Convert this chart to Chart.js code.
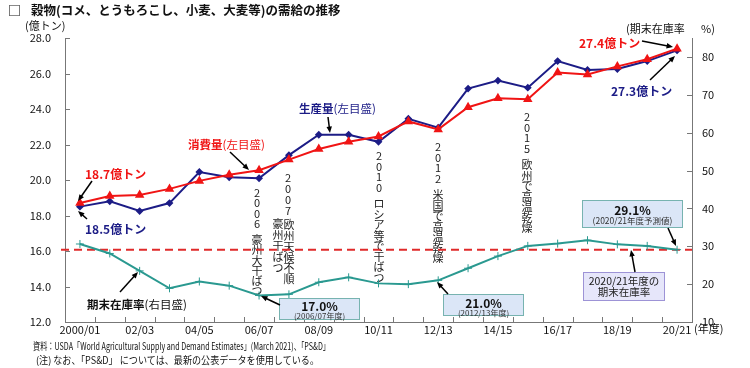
<!DOCTYPE html>
<html lang="ja">
<head>
<meta charset="utf-8">
<title>穀物の需給の推移</title>
<script src="https://cdn.jsdelivr.net/npm/chart.js@4.4.0/dist/chart.umd.min.js"></script>
<style>
  body { margin: 0; background: #fff; font-family: "Noto Sans CJK JP", sans-serif; }
  #wrap { position: relative; width: 750px; height: 368px; overflow: hidden; }
  #chart { position: absolute; left: 0; top: 0; }
  .txt { position: absolute; white-space: nowrap; color: #111; line-height: 1; }
  #title { left: 8px; top: 3px; font-size: 12.5px; font-weight: bold; }
  #title span { display: inline-block; width: 23px; font-size: 13px; }
  .note { font-size: 10px; transform-origin: 0 50%; }
</style>
</head>
<body>
<div id="wrap">
  <canvas id="chart" width="750" height="368"></canvas>
  <div id="title" class="txt"><span>□</span>穀物(コメ、とうもろこし、小麦、大麦等)の需給の推移</div>
  <div id="note1" class="txt note" style="left:33px;top:341px" data-w="297">資料：USDA「World Agricultural Supply and Demand Estimates」(March 2021)、「PS&amp;D」</div>
  <div id="note2" class="txt note" style="left:36px;top:355px" data-w="283">(注) なお、「PS&amp;D」 については、最新の公表データを使用している。</div>
</div>
<script>
// 年度
const years = ['2000/01', '01/02', '02/03', '03/04', '04/05', '05/06', '06/07', '07/08', '08/09', '09/10',
  '10/11', '11/12', '12/13', '13/14', '14/15', '15/16', '16/17', '17/18', '18/19', '19/20', '20/21'];

// 生産量・消費量（億トン）
const production = [18.5, 18.8, 18.25, 18.7, 20.45, 20.15, 20.1, 21.4, 22.55, 22.55, 22.15,
  23.45, 22.95, 25.15, 25.6, 25.2, 26.7, 26.2, 26.25, 26.7, 27.3];
const consumption = [18.7, 19.1, 19.15, 19.5, 19.95, 20.3, 20.55, 21.15, 21.75, 22.15, 22.45,
  23.3, 22.85, 24.1, 24.6, 24.55, 26.05, 25.95, 26.4, 26.8, 27.4];

// 期末在庫率（％）
const stockRatio = [30.6, 28.1, 23.5, 18.9, 20.7, 19.6, 17.0, 17.3, 20.5, 21.8, 20.2,
  20.0, 21.0, 24.2, 27.4, 30.1, 30.7, 31.6, 30.5, 30.1, 29.1];
const latestRatio = 29.1;

const leftTicks = [12, 14, 16, 18, 20, 22, 24, 26, 28];
const rightTicks = [10, 20, 30, 40, 50, 60, 70, 80];

const FONT = '"Noto Sans CJK JP", sans-serif';
const RED = '#f01414';
const NAVY = '#1c1c86';
const TEAL = '#2a9990';

// 脚注を元の幅に合わせる
document.querySelectorAll('.note').forEach(el => {
  const w = el.getBoundingClientRect().width;
  el.style.transform = 'scaleX(' + (Number(el.dataset.w) / w) + ')';
});

function text(ctx, str, x, y, opt) {
  opt = opt || {};
  ctx.font = (opt.bold ? 'bold ' : '') + (opt.size || 11) + 'px ' + FONT;
  ctx.fillStyle = opt.color || '#111';
  ctx.textAlign = opt.align || 'left';
  ctx.textBaseline = 'middle';
  ctx.fillText(str, x, y);
  return ctx.measureText(str).width;
}

// 太字部分 + 通常部分
function label2(ctx, bold, normal, x, y, color, size) {
  const w = text(ctx, bold, x, y, { bold: true, color: color, size: size });
  text(ctx, normal, x + w, y, { color: color, size: size });
}

function vtext(ctx, str, x, y0, step) {
  let y = y0;
  for (const ch of str) {
    if (ch === ' ') { y += step * 0.6; continue; }
    text(ctx, ch, x, y, { align: 'center', size: 11, color: '#222' });
    y += step;
  }
}

function arrow(ctx, x1, y1, x2, y2) {
  const a = Math.atan2(y2 - y1, x2 - x1);
  ctx.save();
  ctx.strokeStyle = '#000';
  ctx.fillStyle = '#000';
  ctx.lineWidth = 1.5;
  ctx.beginPath();
  ctx.moveTo(x1, y1);
  ctx.lineTo(x2 - 4 * Math.cos(a), y2 - 4 * Math.sin(a));
  ctx.stroke();
  ctx.beginPath();
  ctx.moveTo(x2, y2);
  ctx.lineTo(x2 - 7 * Math.cos(a - 0.4), y2 - 7 * Math.sin(a - 0.4));
  ctx.lineTo(x2 - 7 * Math.cos(a + 0.4), y2 - 7 * Math.sin(a + 0.4));
  ctx.closePath();
  ctx.fill();
  ctx.restore();
}

function box(ctx, x, y, w, h, fill, stroke) {
  ctx.save();
  ctx.fillStyle = fill;
  ctx.strokeStyle = stroke;
  ctx.lineWidth = 1;
  ctx.fillRect(x, y, w, h);
  ctx.strokeRect(x + 0.5, y + 0.5, w - 1, h - 1);
  ctx.restore();
}

// 出来事の縦書きと在庫率の基準線（系列の下に描く）
const background = {
  id: 'background',
  beforeDatasetsDraw(chart) {
    const ctx = chart.ctx;
    const area = chart.chartArea;

    vtext(ctx, '2006 豪州大干ばつ', 257, 193, 10.2);
    vtext(ctx, '2007', 288, 178, 10.8);
    vtext(ctx, '豪州干ばつ', 278, 224, 11);
    vtext(ctx, '欧州天候不順', 289, 225, 10.8);
    vtext(ctx, '2010 ロシア等で干ばつ', 379, 156, 10.5);
    vtext(ctx, '2012 米国で高温乾燥', 438, 147, 10.5);
    vtext(ctx, '2015 欧州で高温乾燥', 527, 117, 10.5);

    const y = chart.scales.y1.getPixelForValue(latestRatio);
    ctx.save();
    ctx.strokeStyle = '#e02a2a';
    ctx.lineWidth = 2;
    ctx.setLineDash([8, 5]);
    ctx.beginPath();
    ctx.moveTo(area.left - 4, y);
    ctx.lineTo(area.right, y);
    ctx.stroke();
    ctx.restore();
  }
};

const annotations = {
  id: 'annotations',
  afterDraw(chart) {
    const ctx = chart.ctx;
    const area = chart.chartArea;
    const xs = chart.scales.x;
    const ys = chart.scales.y;
    const ys1 = chart.scales.y1;

    // 内向きの目盛り
    ctx.save();
    ctx.strokeStyle = '#777';
    ctx.lineWidth = 1;
    ctx.beginPath();
    leftTicks.forEach(v => {
      const y = Math.round(ys.getPixelForValue(v)) + 0.5;
      ctx.moveTo(area.left, y); ctx.lineTo(area.left + 5, y);
    });
    rightTicks.forEach(v => {
      const y = Math.round(ys1.getPixelForValue(v)) + 0.5;
      ctx.moveTo(area.right - 5, y); ctx.lineTo(area.right, y);
    });
    for (let i = 0; i <= years.length; i++) {
      const x = Math.round(xs.left + i * xs.width / years.length) + 0.5;
      ctx.moveTo(x, area.bottom - 5); ctx.lineTo(x, area.bottom);
    }
    ctx.stroke();
    ctx.restore();

    // 軸の見出し
    text(ctx, '(億トン)', 25, 26, { size: 11 });
    text(ctx, '(期末在庫率', 626, 29, { size: 11 });
    text(ctx, '%)', 701, 29, { size: 11 });
    text(ctx, '(年度)', 694, 329, { size: 11 });

    // 系列ラベル
    text(ctx, '18.7億トン', 85, 174, { bold: true, color: RED, size: 12 });
    arrow(ctx, 92, 181, 78, 201);
    text(ctx, '18.5億トン', 85, 229, { bold: true, color: NAVY, size: 12 });
    arrow(ctx, 87, 219, 78, 211);

    label2(ctx, '消費量', '(左目盛)', 188, 145, RED, 11.5);
    arrow(ctx, 230, 152, 249, 170);
    label2(ctx, '生産量', '(左目盛)', 299, 109, NAVY, 11.5);
    arrow(ctx, 328, 117, 330, 133);

    text(ctx, '27.4億トン', 579, 43, { bold: true, color: RED, size: 12 });
    arrow(ctx, 642, 41, 673, 47);
    text(ctx, '27.3億トン', 611, 91, { bold: true, color: NAVY, size: 12 });
    arrow(ctx, 650, 80, 675, 56);

    label2(ctx, '期末在庫率', '(右目盛)', 87, 305, '#111', 11.5);
    arrow(ctx, 120, 292, 138, 272);

    // 吹き出し
    box(ctx, 279, 298, 81, 22, '#dbe6f7', '#77b3b0');
    text(ctx, '17.0%', 319.5, 306, { bold: true, size: 12, align: 'center' });
    text(ctx, '(2006/07年度)', 319.5, 315.5, { size: 8, align: 'center', color: '#333' });
    arrow(ctx, 280, 305, 261, 296);

    box(ctx, 443, 294, 81, 22, '#dbe6f7', '#77b3b0');
    text(ctx, '21.0%', 483.5, 303, { bold: true, size: 12, align: 'center' });
    text(ctx, '(2012/13年度)', 483.5, 312.5, { size: 8, align: 'center', color: '#333' });
    arrow(ctx, 448, 294, 437, 282);

    box(ctx, 582, 200, 101, 28, '#dbe6f7', '#77b3b0');
    text(ctx, '29.1%', 632.5, 210, { bold: true, size: 12, align: 'center' });
    text(ctx, '(2020/21年度予測値)', 632.5, 220.5, { size: 8.5, align: 'center', color: '#333' });
    arrow(ctx, 668, 228, 676, 246);

    box(ctx, 583, 272, 82, 29, '#e6e6fa', '#9d93d6');
    text(ctx, '2020/21年度の', 624, 281.5, { size: 10.5, align: 'center', color: '#222' });
    text(ctx, '期末在庫率', 624, 292, { size: 10.5, align: 'center', color: '#222' });
    arrow(ctx, 635, 272, 631, 250);
  }
};

new Chart(document.getElementById('chart'), {
  type: 'line',
  data: {
    labels: years,
    datasets: [
      {
        label: '消費量',
        data: consumption,
        yAxisID: 'y',
        borderColor: RED,
        backgroundColor: RED,
        borderWidth: 2,
        pointStyle: 'triangle',
        pointRadius: 3.5,
        tension: 0
      },
      {
        label: '生産量',
        data: production,
        yAxisID: 'y',
        borderColor: NAVY,
        backgroundColor: NAVY,
        borderWidth: 2,
        pointStyle: 'rectRot',
        pointRadius: 2.5,
        tension: 0
      },
      {
        label: '期末在庫率',
        data: stockRatio,
        yAxisID: 'y1',
        borderColor: TEAL,
        backgroundColor: TEAL,
        borderWidth: 2,
        pointStyle: 'cross',
        pointRadius: 4,
        pointBorderWidth: 1,
        tension: 0
      }
    ]
  },
  options: {
    responsive: false,
    animation: false,
    devicePixelRatio: 1,
    layout: { padding: { top: 38, left: 0, right: 0, bottom: 0 } },
    plugins: {
      legend: { display: false },
      tooltip: { enabled: false }
    },
    scales: {
      x: {
        offset: true,
        grid: { display: false, drawTicks: false },
        border: { color: '#777' },
        ticks: {
          autoSkip: false,
          maxRotation: 0,
          padding: 1,
          color: '#111',
          font: { family: FONT, size: 11 },
          callback: (v, i) => (i % 2 === 0 ? years[i] : '')
        },
        afterFit: s => { s.height = 46; }
      },
      y: {
        position: 'left',
        min: 12,
        max: 28,
        afterBuildTicks: s => { s.ticks = leftTicks.map(v => ({ value: v })); },
        grid: { display: false, drawTicks: false },
        border: { color: '#777' },
        ticks: {
          padding: 14,
          color: '#111',
          font: { family: FONT, size: 11 },
          callback: v => v.toFixed(1)
        },
        afterFit: s => { s.width = 65; }
      },
      y1: {
        position: 'right',
        min: 10,
        max: 85,
        afterBuildTicks: s => { s.ticks = rightTicks.map(v => ({ value: v })); },
        grid: { display: false, drawTicks: false },
        border: { color: '#777' },
        ticks: {
          padding: 10,
          color: '#111',
          font: { family: FONT, size: 11 }
        },
        afterFit: s => { s.width = 58; }
      }
    }
  },
  plugins: [background, annotations]
});
</script>
</body>
</html>
